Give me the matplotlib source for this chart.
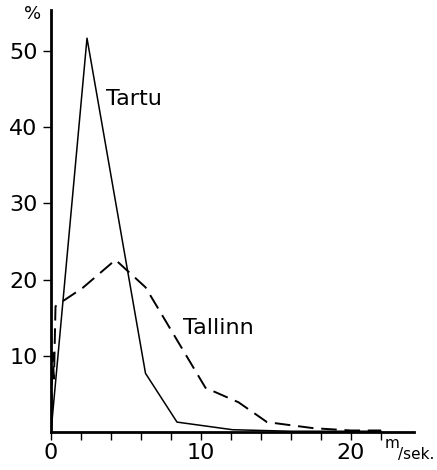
import matplotlib.pyplot as plt

# wind speed (m/sek.) and frequency (%)
tartu_speed = [0, 2.4, 6.3, 8.4, 12.1, 16, 20, 22]
tartu_pct = [0, 51.7, 7.7, 1.3, 0.3, 0.1, 0.1, 0.1]

tallinn_speed = [0, 0.1, 0.2, 0.3, 0.5, 2.1, 4.3, 6.3, 10.3, 12.5, 14.4, 17.5, 20, 22]
tallinn_pct = [0, 10.4, 7, 16.5, 16.8, 18.9, 22.6, 19.0, 5.8, 3.9, 1.3, 0.5, 0.2, 0.2]

fig = plt.figure(figsize=(4.37, 4.70), dpi=100)
ax = fig.add_axes([51 / 437, 38 / 470, 363 / 437, 422 / 470])

ax.plot(tartu_speed, tartu_pct, color="black", linewidth=1.1)
ax.plot(tallinn_speed, tallinn_pct, color="black", linewidth=1.4, dashes=(8, 4))

ax.set_xlim(0, 24.2)
ax.set_ylim(0, 55.4)

ax.spines["top"].set_visible(False)
ax.spines["right"].set_visible(False)
ax.spines["left"].set_linewidth(2)
ax.spines["bottom"].set_linewidth(2)

ax.set_xticks([0, 10, 20])
ax.set_xticklabels(["0", "10", "20"])
ax.set_xticks(range(0, 24, 2), minor=True)
ax.set_yticks([10, 20, 30, 40, 50])
ax.tick_params(axis="both", which="both", direction="out", width=1, labelsize=16)
ax.tick_params(axis="both", which="major", length=6)
ax.tick_params(axis="x", which="minor", length=6)
ax.tick_params(axis="x", pad=2)

# labels for the two stations
ax.text(3.7, 43.7, "Tartu", fontsize=16, va="center")
ax.text(8.8, 13.6, "Tallinn", fontsize=16, va="center")

# units
fig.text(33 / 437, 1 - 14 / 470, "%", fontsize=13, ha="center", va="center")
fig.text(392 / 437, 1 - 443 / 470, "m", fontsize=11, ha="center", va="center")
fig.text(398 / 437, 1 - 455 / 470, "/sek.", fontsize=11, ha="left", va="center")

fig.savefig("out.png", dpi=100)
